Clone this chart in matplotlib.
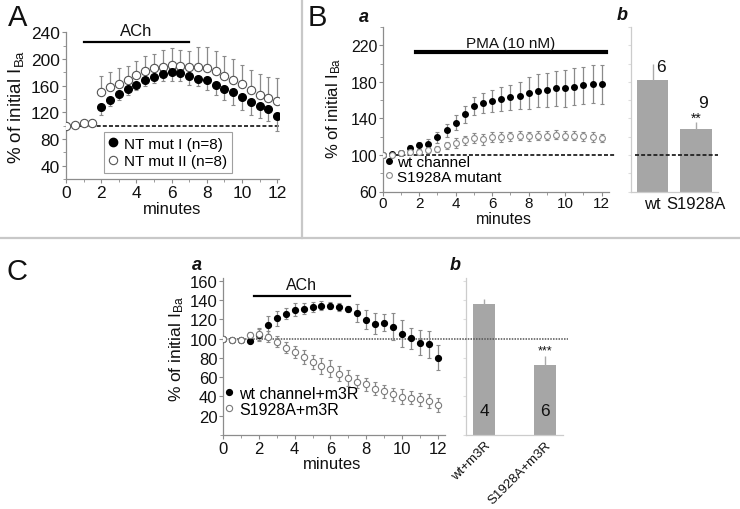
import matplotlib
matplotlib.use("Agg")
import matplotlib.pyplot as plt
import numpy as np
from matplotlib.lines import Line2D

plt.rcParams['font.family'] = ['Liberation Sans', 'DejaVu Sans']
plt.rcParams['mathtext.fontset'] = 'custom'
plt.rcParams['mathtext.rm'] = 'Liberation Sans'
plt.rcParams['mathtext.it'] = 'Liberation Sans:italic'
plt.rcParams['mathtext.bf'] = 'Liberation Sans:bold'

W, H = 740, 510
def fx(px): return px / W
def fy(py): return 1 - py / H

# ---------------- data ----------------
t = [0, 0.5, 1, 1.5, 2, 2.5, 3, 3.5, 4, 4.5, 5, 5.5, 6, 6.5, 7, 7.5, 8, 8.5, 9, 9.5, 10, 10.5, 11, 11.5, 12]

# Panel A
a_t_mut1 = [2, 2.5, 3, 3.5, 4, 4.5, 5, 5.5, 6, 6.5, 7, 7.5, 8, 8.5, 9, 9.5, 10, 10.5, 11, 11.5, 12]
a_mut1 = [127.5, 139, 147.5, 155, 161.5, 168, 173, 178, 180, 179, 174, 170, 168, 161.5, 155, 150, 143, 135.5, 130, 125, 115]
a_mut1_err = [11, 10, 8.5, 8.5, 7.5, 8, 9, 10.5, 12.5, 12.5, 12.5, 11, 14, 16, 16, 18.5, 19, 19, 18.5, 18.5, 23.5]
a_mut2 = [100, 101.5, 104, 104, 150.5, 158, 163, 169, 175.5, 182.5, 186.5, 187.5, 191.5, 189, 187.5, 188, 186.5, 181.5, 174, 169, 162.5, 153, 145.5, 141.5, 137.5]
a_mut2_err = [0, 0, 0, 0, 23.5, 22, 23, 20, 21, 21.5, 21, 26, 25, 25, 25, 30, 31, 30, 30, 31, 29, 31, 32, 32, 34]
a_labels = ['NT mut I (n=8)', 'NT mut II (n=8)']

# Panel B a
b_wt = [100, 100.5, 102.6, 107.4, 110.4, 111.9, 119.3, 127, 135.2, 144.4, 153.7, 156.7, 159.3, 161, 163, 164.8, 167.8, 170.4, 171.1, 173, 173, 174.8, 176, 177.8, 177.4]
b_wt_err = [0, 0, 1.5, 3, 4, 5, 6, 7, 8, 9, 10, 11, 12, 13, 14, 15, 17, 18, 19, 19, 20, 20, 20, 21, 21.5]
b_mut = [100, 100, 101.9, 103.7, 103.7, 105.6, 106.7, 110.4, 113, 116, 118.5, 117.4, 119.6, 119.6, 120.4, 121, 120.4, 121, 121, 121.9, 121, 121, 120.4, 119.6, 118.5]
b_mut_err = [0, 0, 1.5, 2, 2.5, 3, 3.5, 4, 5, 5, 5, 6, 5, 5, 5, 5, 5, 5, 5, 5, 5, 5, 5, 5, 4]
b_labels = ['wt channel', 'S1928A mutant']

# Panel B b
bb_cats = ['wt', 'S1928A']
bb_vals = [182, 128]
bb_err = [18, 8]
bb_n = ['6', '9']

# Panel C a
c_wt = [100, 99, 98.3, 97.6, 104, 113.8, 121.1, 126, 130.1, 131.1, 132.9, 134.3, 134.3, 132.9, 130.8, 126.6, 119.7, 115.6, 116.6, 112.1, 105.2, 100.3, 95.8, 94.1, 80.3]
c_wt_err = [0, 0, 0, 2, 6, 9.5, 7.5, 6, 6.5, 6, 5, 4.5, 4, 4, 3.5, 9.5, 10, 11, 9, 14, 14, 11, 13, 14, 13]
c_mut = [100, 99, 98.3, 103.5, 104.5, 102.1, 96.9, 90.7, 86.2, 81, 75.8, 71.6, 68.9, 63.7, 59.2, 55.4, 52.6, 48.1, 45.3, 42.2, 39.8, 38.8, 37, 35.3, 31.1]
c_mut_err = [0, 0, 0, 3, 6, 6, 6, 6, 6, 7, 7, 8, 8.5, 8, 8, 7, 7, 7, 7, 7, 8, 7, 7, 7, 7]
c_labels = ['wt channel+m3R', 'S1928A+m3R']

# Panel C b
cb_cats = ['wt+m3R', 'S1928A+m3R']
cb_vals = [136, 72.7]
cb_err = [5, 9.5]
cb_n = ['4', '6']

# ---------------- figure ----------------
fig = plt.figure(figsize=(7.4, 5.1), dpi=100)
SP = '#8c8c8c'
TXT = '#111111'
ERR = '#8a8a8a'
BAR = '#a6a6a6'

def style(ax, fs, pad=2):
    ax.patch.set_alpha(0)
    for s in ['top', 'right']:
        ax.spines[s].set_visible(False)
    for s in ['left', 'bottom']:
        ax.spines[s].set_color(SP)
        ax.spines[s].set_linewidth(0.9)
    ax.tick_params(which='both', color=SP, labelcolor=TXT, labelsize=fs, direction='out')
    ax.tick_params(which='major', length=3, width=0.8, pad=pad)
    ax.tick_params(which='minor', length=2, width=0.6)

def add_axes_px(l, top, r, bottom):
    return fig.add_axes([fx(l), fy(bottom), (r - l) / W, (bottom - top) / H])

ylab = '% of initial I$_{\\mathrm{Ba}}$'

# ---- Panel A ----
axA = add_axes_px(66, 33.3, 279, 180)
style(axA, 12.5, pad=1.5)
axA.set_xlim(0, 12.1)
axA.set_ylim(20, 240)
axA.set_yticks([40, 80, 120, 160, 200, 240])
axA.set_yticks(np.arange(20, 241, 20), minor=True)
axA.set_xticks([0, 2, 4, 6, 8, 10, 12])
axA.set_xticks(np.arange(0, 13, 1), minor=True)
axA.axhline(100, color='#222222', ls=(0, (2.2, 1.2)), lw=1.3, zorder=1)
axA.errorbar(a_t_mut1, a_mut1, yerr=[a_mut1_err, [0] * len(a_mut1_err)], fmt='none',
             ecolor=ERR, elinewidth=0.9, capsize=1.5, capthick=0.8, zorder=2)
axA.errorbar(t, a_mut2, yerr=[[0] * len(a_mut2_err), a_mut2_err], fmt='none',
             ecolor=ERR, elinewidth=0.9, capsize=1.5, capthick=0.8, zorder=2)
axA.plot(t, a_mut2, 'o', ms=6, mfc='white', mec='#555555', mew=0.8, ls='none', zorder=3, label=a_labels[1])
axA.plot(a_t_mut1, a_mut1, 'o', ms=5.5, mfc='black', mec='black', ls='none', zorder=4, label=a_labels[0])
axA.plot([1, 7], [226, 226], color='black', lw=1.6, clip_on=False)
axA.text(4, 243, 'ACh', ha='center', va='center', fontsize=12, color=TXT)
hA = [Line2D([], [], marker='o', ls='none', ms=6, mfc='black', mec='black'),
      Line2D([], [], marker='o', ls='none', ms=6, mfc='white', mec='#555555', mew=0.8)]
legA = fig.legend(hA, a_labels, loc='upper left', bbox_to_anchor=(fx(104), fy(133)),
                  fontsize=11, frameon=True, fancybox=False, edgecolor='#888888',
                  handlelength=0.6, handletextpad=0.4, borderpad=0.3, labelspacing=0.25,
                  borderaxespad=0)
legA.get_frame().set_linewidth(0.8)
fig.text(fx(16), fy(107), ylab, rotation=90, ha='center', va='center', fontsize=13.5, color=TXT)
fig.text(fx(172), fy(210), 'minutes', ha='center', va='center', fontsize=12, color=TXT)
fig.text(fx(18), fy(18), 'A', ha='center', va='center', fontsize=21, color=TXT)

# ---- Panel B a ----
axB = add_axes_px(382.7, 28, 609, 192.5)
style(axB, 11.5, pad=1)
axB.tick_params(axis='x', labelsize=11, pad=0.5)
axB.set_xlim(0, 12.4)
axB.set_ylim(60, 240)
axB.set_yticks([60, 100, 140, 180, 220])
axB.set_yticks(np.arange(60, 241, 20), minor=True)
axB.set_xticks([0, 2, 4, 6, 8, 10, 12])
axB.set_xticks(np.arange(0, 13, 1), minor=True)
axB.axhline(100, xmax=1.03, color='#222222', ls=(0, (2.2, 1.2)), lw=1.3, zorder=1, clip_on=False)
axB.errorbar(t, b_wt, yerr=b_wt_err, fmt='none', ecolor=ERR, elinewidth=0.9, capsize=1.5, capthick=0.8, zorder=2)
axB.errorbar(t, b_mut, yerr=b_mut_err, fmt='none', ecolor=ERR, elinewidth=0.9, capsize=1.5, capthick=0.8, zorder=2)
axB.plot(t, b_wt, 'o', ms=4, mfc='black', mec='black', ls='none', zorder=3)
axB.plot(t, b_mut, 'o', ms=4.2, mfc='white', mec='#8a8a8a', mew=0.8, ls='none', zorder=4)
axB.plot([1.8, 12.25], [212.5, 212.5], color='black', lw=3, clip_on=False)
axB.text(7, 222, 'PMA (10 nM)', ha='center', va='center', fontsize=11, color=TXT)
hB = [Line2D([], [], marker='o', ls='none', ms=4, mfc='black', mec='black'),
      Line2D([], [], marker='o', ls='none', ms=4.2, mfc='white', mec='#8a8a8a', mew=0.8)]
fig.legend(hB, b_labels, loc='upper left', bbox_to_anchor=(fx(386), fy(156)),
           fontsize=11, frameon=False, handlelength=0.4, handletextpad=0.3,
           borderpad=0, labelspacing=0.05, borderaxespad=0)
fig.text(fx(334), fy(108), ylab, rotation=90, ha='center', va='center', fontsize=12, color=TXT)
fig.text(fx(504), fy(220), 'minutes', ha='center', va='center', fontsize=11.5, color=TXT)
fig.text(fx(317), fy(18), 'B', ha='center', va='center', fontsize=21, color=TXT)
fig.text(fx(364), fy(17), 'a', ha='center', va='center', fontsize=13, fontweight='bold', style='italic', color=TXT)

# ---- Panel B b ----
axBb = add_axes_px(631, 28, 717.7, 192.5)
style(axBb, 12, pad=2)
axBb.spines['left'].set_color('#cccccc')
axBb.spines['bottom'].set_color('#cccccc')
axBb.tick_params(axis='y', which='both', color='#dddddd', labelleft=False, length=2)
axBb.tick_params(axis='x', length=0, pad=3)
axBb.set_xlim(-0.5, 1.5)
axBb.set_ylim(60, 240)
axBb.set_yticks(np.arange(60, 241, 20))
xb = np.arange(len(bb_cats))
axBb.bar(xb, [v - 60 for v in bb_vals], bottom=60, width=0.727, color=BAR, zorder=2)
axBb.errorbar(xb, bb_vals, yerr=[[0, 0], bb_err], fmt='none', ecolor='#aaaaaa', elinewidth=1.0, capsize=0, zorder=2)
axBb.set_xticks(xb)
axBb.set_xticklabels(bb_cats)
axBb.axhline(100, color='#222222', ls=(0, (2.2, 1.2)), lw=1.3, xmin=0.05, xmax=1.0, zorder=3)
axBb.text(0.2, 197, bb_n[0], ha='center', va='center', fontsize=12.5, color=TXT)
axBb.text(1.16, 157, bb_n[1], ha='center', va='center', fontsize=12.5, color=TXT)
axBb.text(1.0, 141, '**', ha='center', va='center', fontsize=10, color=TXT)
fig.text(fx(622), fy(16), 'b', ha='center', va='center', fontsize=13, fontweight='bold', style='italic', color=TXT)

# ---- separators ----
fig.add_artist(Line2D([fx(302), fx(302)], [fy(0), fy(239)], color='#c8c8c8', lw=1.6))
fig.add_artist(Line2D([0, 1], [fy(239), fy(239)], color='#c8c8c8', lw=1.6))

# ---- Panel C b (drawn first so the dotted line of a passes over it) ----
axCb = add_axes_px(466, 278.9, 563, 436)
style(axCb, 9.5)
axCb.spines['left'].set_color('#cccccc')
axCb.spines['bottom'].set_color('#cccccc')
axCb.tick_params(axis='y', which='both', color='#dddddd', labelleft=False, length=2)
axCb.tick_params(axis='x', length=0, pad=3)
axCb.set_xlim(-0.3, 1.296)
axCb.set_ylim(0, 163)
axCb.set_yticks(np.arange(0, 161, 20))
xc = np.arange(len(cb_cats))
axCb.bar(xc, cb_vals, width=0.357, color=BAR, zorder=2)
axCb.errorbar(xc, cb_vals, yerr=[[0, 0], cb_err], fmt='none', ecolor='#aaaaaa', elinewidth=1.0, capsize=0, zorder=2)
axCb.set_xticks(xc)
axCb.set_xticklabels(cb_cats, rotation=45, ha='right', rotation_mode='anchor')
for i, n in enumerate(cb_n):
    axCb.text(xc[i], 25, n, ha='center', va='center', fontsize=12.5, color=TXT, zorder=5)
axCb.text(1, 88, '***', ha='center', va='center', fontsize=9, color=TXT)
fig.text(fx(455), fy(266), 'b', ha='center', va='center', fontsize=13, fontweight='bold', style='italic', color=TXT)

# ---- Panel C a ----
axC = add_axes_px(223, 278.9, 445, 436)
style(axC, 12, pad=1)
axC.set_xlim(0, 12.4)
axC.set_ylim(0, 163)
axC.set_yticks(np.arange(20, 161, 20))
axC.set_yticks(np.arange(0, 161, 20), minor=True)
axC.set_xticks([0, 2, 4, 6, 8, 10, 12])
axC.set_xticks(np.arange(0, 13, 1), minor=True)
axC.axhline(100, xmin=0, xmax=(568 - 223) / 222, color='#555555', ls=(0, (1, 0.8)), lw=1.1,
            zorder=1, clip_on=False)
axC.errorbar(t, c_wt, yerr=c_wt_err, fmt='none', ecolor=ERR, elinewidth=0.9, capsize=1.5, capthick=0.8, zorder=2)
axC.errorbar(t, c_mut, yerr=c_mut_err, fmt='none', ecolor=ERR, elinewidth=0.9, capsize=1.5, capthick=0.8, zorder=2)
axC.plot(t, c_wt, 'o', ms=4.2, mfc='black', mec='black', ls='none', zorder=3)
axC.plot(t, c_mut, 'o', ms=4.5, mfc='white', mec='#7a7a7a', mew=0.8, ls='none', zorder=4)
axC.plot([1.75, 7.1], [144.3, 144.3], color='black', lw=1.6, clip_on=False)
axC.text(4.4, 155.7, 'ACh', ha='center', va='center', fontsize=11.5, color=TXT)
hC = [Line2D([], [], marker='o', ls='none', ms=4.2, mfc='black', mec='black'),
      Line2D([], [], marker='o', ls='none', ms=4.5, mfc='white', mec='#7a7a7a', mew=0.8)]
fig.legend(hC, c_labels, loc='upper left', bbox_to_anchor=(fx(226), fy(387)),
           fontsize=11.5, frameon=False, handlelength=0.4, handletextpad=0.4,
           borderpad=0, labelspacing=0.05, borderaxespad=0)
fig.text(fx(177), fy(349), ylab, rotation=90, ha='center', va='center', fontsize=12.5, color=TXT)
fig.text(fx(332), fy(465), 'minutes', ha='center', va='center', fontsize=12, color=TXT)
fig.text(fx(17), fy(272), 'C', ha='center', va='center', fontsize=21, color=TXT)
fig.text(fx(197), fy(266), 'a', ha='center', va='center', fontsize=13, fontweight='bold', style='italic', color=TXT)

fig.savefig('out.png', dpi=100)
